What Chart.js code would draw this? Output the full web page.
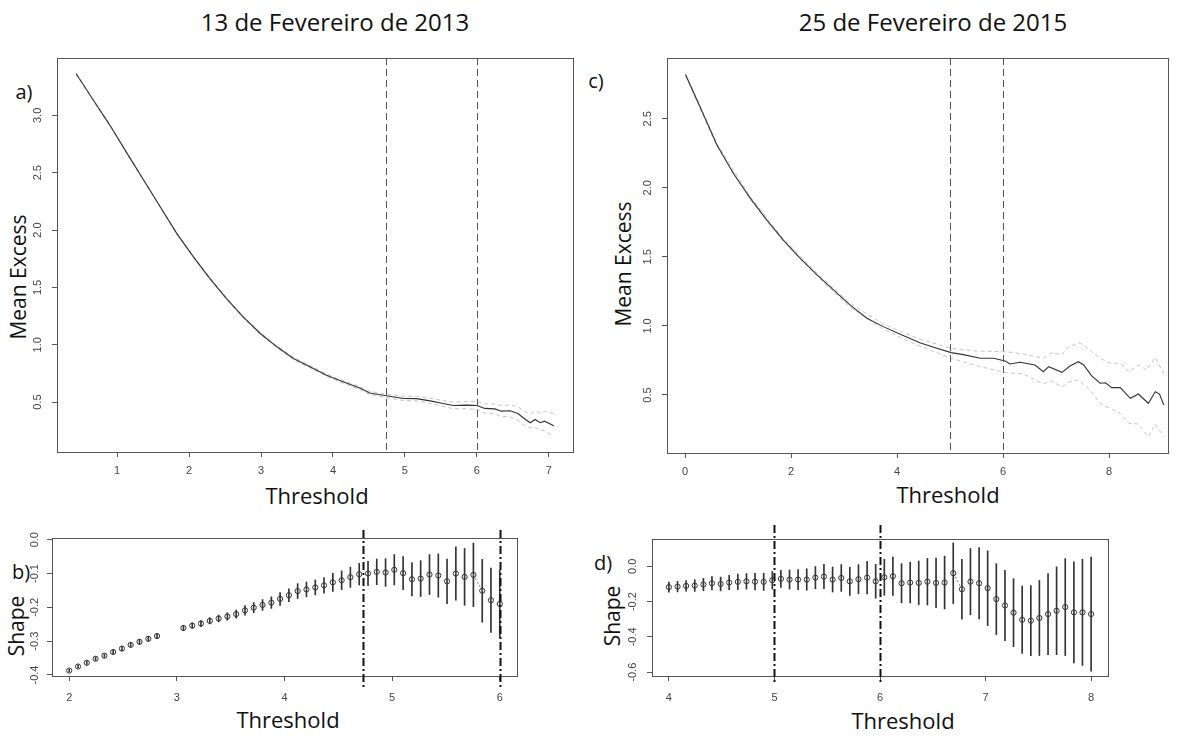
<!DOCTYPE html>
<html>
<head>
<meta charset="utf-8">
<script src="https://cdn.jsdelivr.net/npm/chart.js@4.4.0/dist/chart.umd.min.js"></script>
<style>
  body { margin: 0; background: #fff; width: 1182px; height: 736px; position: relative; overflow: hidden; font-family: "Open Sans", sans-serif; color: #111; }
  canvas { position: absolute; }
  .txt { position: absolute; white-space: nowrap; line-height: 1; transform: translate(-50%, -50%); }
  .title { font-size: 24px; }
  .axt { font-size: 22px; }
  .rot { transform: translate(-50%, -50%) rotate(-90deg); font-size: 21px; }
  .lab { font-size: 20px; }
</style>
</head>
<body>
<div class="txt title" style="left:335px; top:22px">13 de Fevereiro de 2013</div>
<div class="txt title" style="left:933px; top:22px">25 de Fevereiro de 2015</div>

<div class="txt lab" style="left:24px; top:92px">a)</div>
<div class="txt lab" style="left:596px; top:81px">c)</div>
<div class="txt lab" style="left:21px; top:572px">b)</div>
<div class="txt lab" style="left:603px; top:563px">d)</div>

<div class="txt axt rot" style="left:18px; top:277px">Mean Excess</div>
<div class="txt axt rot" style="left:623px; top:264px">Mean Excess</div>
<div class="txt axt" style="left:317px; top:495px">Threshold</div>
<div class="txt axt" style="left:948px; top:494px">Threshold</div>
<div class="txt axt rot" style="left:16px; top:626px">Shape</div>
<div class="txt axt rot" style="left:612px; top:616px">Shape</div>
<div class="txt axt" style="left:288px; top:719px">Threshold</div>
<div class="txt axt" style="left:903px; top:720px">Threshold</div>

<canvas id="chartA" width="580" height="480" style="left:0px; top:40px"></canvas>
<canvas id="chartC" width="592" height="480" style="left:590px; top:40px"></canvas>
<canvas id="chartB" width="580" height="216" style="left:0px; top:520px"></canvas>
<canvas id="chartD" width="592" height="216" style="left:590px; top:520px"></canvas>

<script>
// ---- panel a) mean excess, 13 Feb 2013 ----
const aThreshold = [0.43, 0.67, 0.90, 1.14, 1.37, 1.60, 1.83, 2.06, 2.29, 2.52, 2.75, 2.99, 3.22, 3.45, 3.68, 3.91, 4.14, 4.38, 4.51, 4.74, 4.98, 5.16, 5.35, 5.53, 5.67, 5.86, 6.00, 6.11, 6.25, 6.34, 6.46, 6.57, 6.64, 6.74, 6.81, 6.88, 6.94, 7.07];
const aMeanExcess = [3.363, 3.131, 2.913, 2.666, 2.434, 2.201, 1.969, 1.766, 1.577, 1.403, 1.243, 1.098, 0.982, 0.881, 0.808, 0.735, 0.677, 0.620, 0.580, 0.555, 0.532, 0.530, 0.511, 0.488, 0.471, 0.474, 0.471, 0.445, 0.441, 0.421, 0.424, 0.401, 0.366, 0.320, 0.349, 0.320, 0.334, 0.293];
const aUpper = [3.369, 3.137, 2.919, 2.672, 2.440, 2.207, 1.975, 1.772, 1.585, 1.411, 1.251, 1.106, 0.992, 0.891, 0.818, 0.745, 0.689, 0.633, 0.594, 0.571, 0.550, 0.550, 0.533, 0.513, 0.499, 0.506, 0.507, 0.484, 0.484, 0.468, 0.476, 0.459, 0.428, 0.395, 0.421, 0.405, 0.418, 0.400];
const aLower = [3.357, 3.125, 2.907, 2.660, 2.428, 2.195, 1.963, 1.760, 1.569, 1.395, 1.235, 1.090, 0.972, 0.871, 0.798, 0.725, 0.665, 0.607, 0.566, 0.539, 0.514, 0.510, 0.489, 0.463, 0.443, 0.442, 0.435, 0.406, 0.398, 0.374, 0.372, 0.343, 0.304, 0.275, 0.277, 0.256, 0.250, 0.204];
const aXTicks = [1, 2, 3, 4, 5, 6, 7];
const aYTicks = [0.5, 1.0, 1.5, 2.0, 2.5, 3.0];
const aMarkers = [4.73, 6.0];

// ---- panel c) mean excess, 25 Feb 2015 ----
const cThreshold = [0.01, 0.28, 0.60, 0.91, 1.23, 1.54, 1.85, 2.17, 2.49, 2.80, 3.11, 3.43, 3.74, 4.06, 4.43, 4.69, 5.02, 5.25, 5.57, 5.82, 6.04, 6.13, 6.32, 6.60, 6.76, 6.86, 7.11, 7.26, 7.42, 7.52, 7.67, 7.83, 7.93, 8.05, 8.21, 8.40, 8.55, 8.74, 8.87, 8.95, 9.03];
const cMeanExcess = [2.819, 2.589, 2.312, 2.106, 1.925, 1.768, 1.623, 1.491, 1.370, 1.261, 1.152, 1.056, 0.995, 0.940, 0.879, 0.846, 0.807, 0.792, 0.766, 0.766, 0.746, 0.725, 0.737, 0.717, 0.669, 0.705, 0.664, 0.710, 0.741, 0.717, 0.638, 0.585, 0.589, 0.553, 0.553, 0.476, 0.507, 0.440, 0.524, 0.507, 0.428];
const cUpperThreshold = [0.01, 0.60, 1.23, 1.85, 2.49, 3.11, 3.74, 4.06, 4.43, 5.02, 5.50, 6.04, 6.38, 6.76, 6.92, 7.11, 7.20, 7.42, 7.52, 7.67, 7.83, 8.02, 8.21, 8.37, 8.55, 8.71, 8.87, 9.03];
const cUpper = [2.829, 2.322, 1.935, 1.633, 1.382, 1.166, 1.012, 0.962, 0.905, 0.838, 0.818, 0.814, 0.797, 0.766, 0.807, 0.790, 0.838, 0.879, 0.862, 0.814, 0.766, 0.729, 0.729, 0.669, 0.717, 0.681, 0.773, 0.652];
const cLowerThreshold = [0.01, 0.60, 1.23, 1.85, 2.49, 3.11, 3.74, 4.06, 4.43, 5.02, 5.50, 6.04, 6.38, 6.76, 6.89, 7.11, 7.26, 7.42, 7.64, 7.83, 8.08, 8.21, 8.37, 8.55, 8.74, 8.87, 9.03];
const cLower = [2.809, 2.302, 1.915, 1.613, 1.358, 1.138, 0.978, 0.918, 0.853, 0.766, 0.712, 0.662, 0.652, 0.580, 0.604, 0.560, 0.597, 0.609, 0.536, 0.440, 0.391, 0.367, 0.295, 0.290, 0.198, 0.290, 0.198];
const cXTicks = [0, 2, 4, 6, 8];
const cYTicks = [0.5, 1.0, 1.5, 2.0, 2.5];
const cMarkers = [5, 6];

// ---- panel b) shape parameter, 2013 ----
const bThreshold = [2.000, 2.082, 2.163, 2.245, 2.327, 2.408, 2.490, 2.571, 2.653, 2.735, 2.816, 2.898, 2.980, 3.061, 3.143, 3.224, 3.306, 3.388, 3.469, 3.551, 3.633, 3.714, 3.796, 3.878, 3.959, 4.041, 4.122, 4.204, 4.286, 4.367, 4.449, 4.531, 4.612, 4.694, 4.776, 4.857, 4.939, 5.020, 5.102, 5.184, 5.265, 5.347, 5.429, 5.510, 5.592, 5.673, 5.755, 5.837, 5.918, 6.000];
const bShape = [-0.387, -0.375, -0.364, -0.352, -0.343, -0.332, -0.322, -0.311, -0.302, -0.293, -0.285, null, null, -0.261, -0.254, -0.248, -0.240, -0.233, -0.227, -0.220, -0.209, -0.201, -0.193, -0.186, -0.175, -0.164, -0.152, -0.147, -0.141, -0.135, -0.126, -0.120, -0.111, -0.102, -0.100, -0.095, -0.097, -0.089, -0.099, -0.117, -0.115, -0.103, -0.106, -0.123, -0.100, -0.110, -0.104, -0.151, -0.179, -0.190];
const bHalfWidth = [0.004, 0.004, 0.005, 0.005, 0.005, 0.006, 0.006, 0.006, 0.007, 0.007, 0.007, null, null, 0.008, 0.008, 0.009, 0.009, 0.010, 0.011, 0.012, 0.014, 0.015, 0.016, 0.017, 0.019, 0.019, 0.022, 0.022, 0.022, 0.023, 0.027, 0.028, 0.030, 0.032, 0.036, 0.038, 0.041, 0.045, 0.049, 0.049, 0.053, 0.059, 0.064, 0.066, 0.079, 0.084, 0.094, 0.093, 0.095, 0.100];
const bXTicks = [2, 3, 4, 5, 6];
const bYTicks = [-0.4, -0.3, -0.2, -0.1, 0.0];
const bMarkers = [4.73, 6.0];

// ---- panel d) shape parameter, 2015 ----
const dThreshold = [4.000, 4.082, 4.163, 4.245, 4.327, 4.408, 4.490, 4.571, 4.653, 4.735, 4.816, 4.898, 4.980, 5.061, 5.143, 5.224, 5.306, 5.388, 5.469, 5.551, 5.633, 5.714, 5.796, 5.878, 5.959, 6.041, 6.122, 6.204, 6.286, 6.367, 6.449, 6.531, 6.612, 6.694, 6.776, 6.857, 6.939, 7.020, 7.102, 7.184, 7.265, 7.347, 7.429, 7.510, 7.592, 7.673, 7.755, 7.837, 7.918, 8.000];
const dShape = [-0.118, -0.115, -0.111, -0.109, -0.103, -0.096, -0.100, -0.092, -0.088, -0.085, -0.087, -0.088, -0.079, -0.071, -0.075, -0.075, -0.075, -0.064, -0.058, -0.075, -0.066, -0.085, -0.073, -0.064, -0.085, -0.062, -0.056, -0.096, -0.092, -0.094, -0.087, -0.094, -0.092, -0.039, -0.130, -0.087, -0.096, -0.124, -0.186, -0.222, -0.263, -0.303, -0.308, -0.293, -0.271, -0.252, -0.231, -0.261, -0.261, -0.271];
const dHalfWidth = [0.028, 0.030, 0.030, 0.033, 0.035, 0.038, 0.039, 0.041, 0.044, 0.044, 0.047, 0.049, 0.050, 0.049, 0.054, 0.057, 0.061, 0.063, 0.069, 0.071, 0.076, 0.080, 0.083, 0.092, 0.096, 0.102, 0.109, 0.111, 0.115, 0.124, 0.132, 0.141, 0.150, 0.172, 0.169, 0.188, 0.202, 0.212, 0.201, 0.200, 0.193, 0.191, 0.199, 0.213, 0.230, 0.249, 0.275, 0.287, 0.301, 0.324];
const dXTicks = [4, 5, 6, 7, 8];
const dYTicks = [-0.6, -0.4, -0.2, 0.0];
const dMarkers = [5, 6];

const tickFont = { family: '"Liberation Sans", Arial, sans-serif', size: 11 };

// R-like frame: box, rotated y labels, vertical threshold markers
const rFrame = {
  id: 'rFrame',
  afterDraw(chart, args, opts) {
    const { ctx, chartArea: a, scales } = chart;
    ctx.save();
    ctx.strokeStyle = '#555';
    ctx.lineWidth = 1;
    ctx.strokeRect(Math.round(a.left) + 0.5, Math.round(a.top) + 0.5,
      Math.round(a.right - a.left), Math.round(a.bottom - a.top));

    ctx.fillStyle = '#444';
    ctx.font = '11px "Liberation Sans", Arial, sans-serif';
    ctx.textAlign = 'center';
    ctx.textBaseline = 'middle';
    scales.y.ticks.forEach(t => {
      const py = scales.y.getPixelForValue(t.value);
      ctx.save();
      ctx.translate(a.left - opts.yLabelGap, py);
      ctx.rotate(-Math.PI / 2);
      ctx.fillText(t.value.toFixed(1), 0, 0);
      ctx.restore();
    });

    ctx.strokeStyle = opts.lineColor;
    ctx.lineWidth = opts.lineWidth;
    ctx.setLineDash(opts.dash);
    opts.markers.forEach(v => {
      const px = Math.round(scales.x.getPixelForValue(v)) + 0.5;
      ctx.beginPath();
      ctx.moveTo(px, a.top - opts.extTop);
      ctx.lineTo(px, a.bottom + opts.extBottom);
      ctx.stroke();
    });
    ctx.restore();
  }
};

const buildScales = (p) => ({
  x: {
    type: 'linear', min: p.xMin, max: p.xMax, offset: false,
    afterBuildTicks: s => { s.ticks = p.xTicks.map(v => ({ value: v })); },
    afterFit: s => { s.height = p.xHeight; },
    grid: { drawOnChartArea: false, offset: false, tickLength: 5, color: '#555' },
    border: { display: false },
    ticks: { font: tickFont, color: '#444', padding: p.xPad, autoSkip: false, maxRotation: 0 }
  },
  y: {
    type: 'linear', min: p.yMin, max: p.yMax,
    afterBuildTicks: s => { s.ticks = p.yTicks.map(v => ({ value: v })); },
    afterFit: s => { s.width = p.yWidth; },
    grid: { drawOnChartArea: false, offset: false, tickLength: 5, color: '#555' },
    border: { display: false },
    ticks: { display: false }
  }
});

const baseOptions = (p, frame) => ({
  responsive: false,
  animation: false,
  layout: { padding: p.padding },
  plugins: { legend: { display: false }, tooltip: { enabled: false }, rFrame: frame },
  scales: buildScales(p)
});

const pairs = (xs, ys) => xs.map((x, i) => ({ x, y: ys[i] }));

const lineSet = (data, color, width, dash) => ({
  type: 'line', data, borderColor: color, borderWidth: width, borderDash: dash,
  pointRadius: 0, tension: 0, fill: false
});

// mean excess panel
const meanExcessChart = (id, p, xs, mean, upX, up, loX, lo, markers) => new Chart(document.getElementById(id), {
  type: 'line',
  data: {
    datasets: [
      lineSet(pairs(xs, mean), '#333', 1.1, []),
      lineSet(pairs(upX, up), '#c4c4c4', 1, [4, 3]),
      lineSet(pairs(loX, lo), '#c4c4c4', 1, [4, 3])
    ]
  },
  options: baseOptions(p, { yLabelGap: p.yGap, markers, lineColor: '#555', lineWidth: 1, dash: [7, 4], extTop: 0, extBottom: 0 }),
  plugins: [rFrame]
});

// shape panel: points + error bars
const shapeChart = (id, p, xs, shape, half, markers, ext) => new Chart(document.getElementById(id), {
  type: 'line',
  data: {
    datasets: [
      {
        type: 'line', data: pairs(xs, shape), spanGaps: false, tension: 0,
        borderWidth: 1, borderDash: [2, 2],
        segment: {
          borderColor: c => Math.hypot(c.p1.x - c.p0.x, c.p1.y - c.p0.y) > 14 ? '#777' : 'rgba(0,0,0,0)'
        },
        pointRadius: 2.6, pointBorderWidth: 1, pointBorderColor: '#333', pointBackgroundColor: 'rgba(0,0,0,0)'
      },
      {
        type: 'bar', grouped: false, barThickness: 1, backgroundColor: '#333',
        data: xs.map((x, i) => ({ x, y: shape[i] === null ? null : [shape[i] - half[i], shape[i] + half[i]] }))
      }
    ]
  },
  options: baseOptions(p, { yLabelGap: p.yGap, markers, lineColor: '#111', lineWidth: 2, dash: [8, 3, 2, 3], extTop: ext[0], extBottom: ext[1] }),
  plugins: [rFrame]
});

meanExcessChart('chartA', {
  xMin: 0.164, xMax: 7.336, yMin: 0.065, yMax: 3.5, xTicks: aXTicks, yTicks: aYTicks,
  xHeight: 68, yWidth: 57, xPad: 7, yGap: 19, padding: { left: 0, top: 18, right: 7, bottom: 0 }
}, aThreshold, aMeanExcess, aThreshold, aUpper, aThreshold, aLower, aMarkers);

meanExcessChart('chartC', {
  xMin: -0.34, xMax: 9.11, yMin: 0.08, yMax: 2.94, xTicks: cXTicks, yTicks: cYTicks,
  xHeight: 67, yWidth: 77, xPad: 7, yGap: 19, padding: { left: 0, top: 18, right: 14, bottom: 0 }
}, cThreshold, cMeanExcess, cUpperThreshold, cUpper, cLowerThreshold, cLower, cMarkers);

shapeChart('chartB', {
  xMin: 1.84, xMax: 6.16, yMin: -0.403, yMax: 0.005, xTicks: bXTicks, yTicks: bYTicks,
  xHeight: 60, yWidth: 52, xPad: 10, yGap: 17, padding: { left: 0, top: 18, right: 63, bottom: 0 }
}, bThreshold, bShape, bHalfWidth, bMarkers, [8, 12]);

shapeChart('chartD', {
  xMin: 3.84, xMax: 8.16, yMin: -0.622, yMax: 0.155, xTicks: dXTicks, yTicks: dYTicks,
  xHeight: 60, yWidth: 62, xPad: 10, yGap: 19, padding: { left: 0, top: 19, right: 74, bottom: 0 }
}, dThreshold, dShape, dHalfWidth, dMarkers, [14, 7]);
</script>
</body>
</html>
